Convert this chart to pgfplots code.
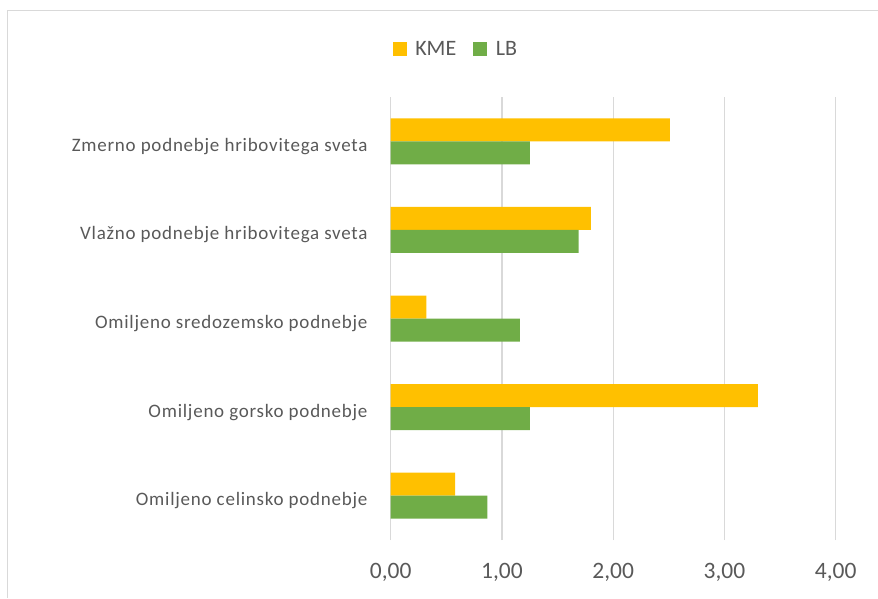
\documentclass[border=0pt]{standalone}
\usepackage{pgfplots}
\pgfplotsset{compat=1.18}
\usepackage{fontspec}
\setmainfont{Carlito}
\newfontfamily\catfont[LetterSpace=4]{Carlito}
\definecolor{kme}{HTML}{FFC000}
\definecolor{lb}{HTML}{70AD47}
\definecolor{txt}{HTML}{595959}
\definecolor{grd}{HTML}{D9D9D9}
\begin{document}
\begin{tikzpicture}
\path[use as bounding box] (0,0) rectangle (878pt,598pt);
\draw[grd, line width=1pt] (7.5pt,0pt) -- (7.5pt,587pt) -- (878pt,587pt);
\begin{axis}[
  at={(390.7pt,58pt)}, anchor=south west,
  scale only axis, width=445pt, height=443pt,
  xbar, bar width=23pt,
  xmin=0, xmax=4, ymin=-0.5, ymax=4.5,
  axis line style={draw=none},
  major tick length=0pt,
  xmajorgrids, grid style={grd, line width=1.2pt},
  xtick={0,1,2,3,4},
  xticklabels={{0,00},{1,00},{2,00},{3,00},{4,00}},
  ytick={0,1,2,3,4},
  yticklabels={Omiljeno celinsko podnebje, Omiljeno gorsko podnebje, Omiljeno sredozemsko podnebje, Vlažno podnebje hribovitega sveta, Zmerno podnebje hribovitega sveta},
  xticklabel style={font=\fontsize{23.5}{26}\selectfont, text=txt, anchor=north, inner sep=0pt, yshift=-22.7pt},
  yticklabel style={font=\catfont\fontsize{19}{21}\selectfont, text=txt, anchor=base east, inner sep=0pt, xshift=-23pt, yshift=-10pt},
  legend style={at={(0.0045,1.108)}, anchor=west, draw=none, inner sep=0pt, outer sep=0pt,
    font=\fontsize{22}{24}\selectfont, text=txt, legend columns=-1,
    /tikz/every odd column/.append style={column sep=6.6pt},
    /tikz/every even column/.append style={column sep=15pt}},
  legend cell align=left,
]
\addplot[fill=kme, draw=none, bar shift=11.5pt,
  legend image code/.code={\fill[kme] (0pt,-7pt) rectangle (14pt,7pt);}]
  coordinates {(0.58,0) (3.30,1) (0.32,2) (1.80,3) (2.51,4)};
\addplot[fill=lb, draw=none, bar shift=-11.5pt,
  legend image code/.code={\fill[lb] (0pt,-7pt) rectangle (14pt,7pt);}]
  coordinates {(0.87,0) (1.25,1) (1.16,2) (1.69,3) (1.25,4)};
\legend{KME,LB}
\end{axis}
\end{tikzpicture}
\end{document}
